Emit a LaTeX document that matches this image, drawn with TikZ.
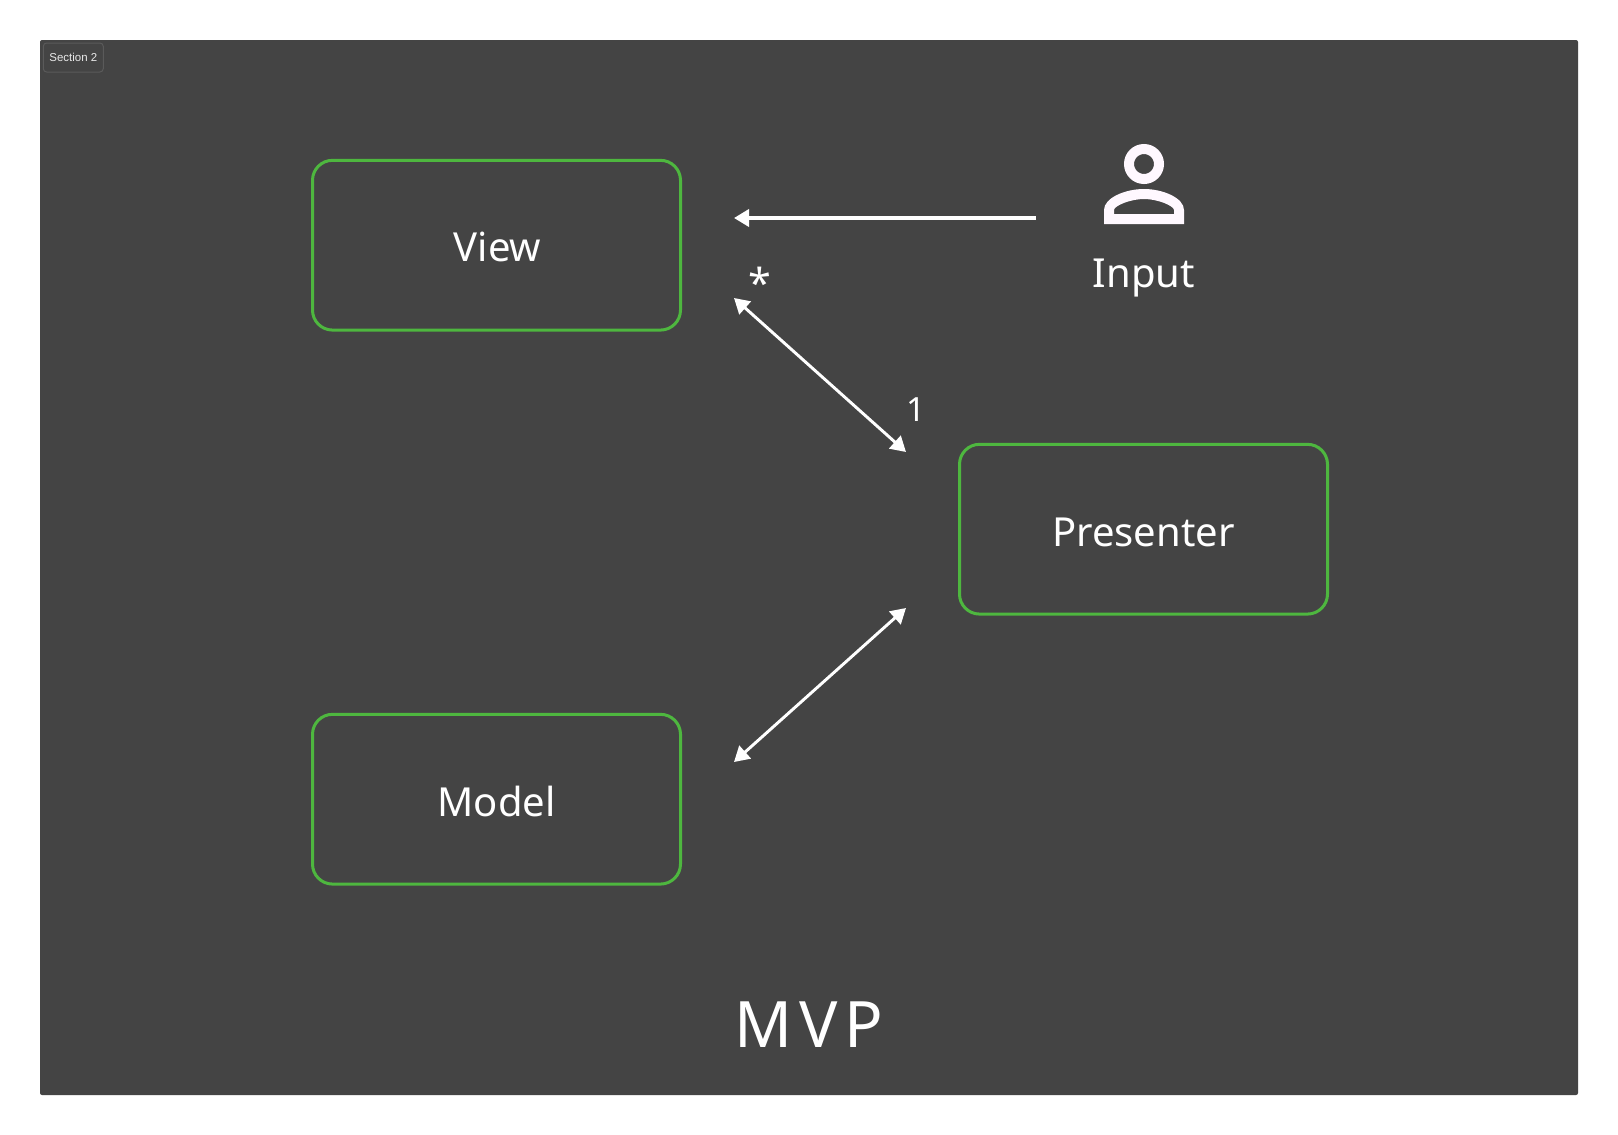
\documentclass[tikz,border=0pt]{standalone}
\usepackage{fontspec}
\setmainfont{Noto Sans}
\newfontfamily\spacedfont[LetterSpace=10.5]{Noto Sans}
\newfontfamily\tagfont{Liberation Sans}
\usetikzlibrary{arrows.meta}
\definecolor{panel}{HTML}{444444}
\definecolor{edgegreen}{HTML}{4EB73F}
\definecolor{tagborder}{HTML}{5A5A5A}
\definecolor{tagtext}{HTML}{E8E8E8}
\definecolor{iconwhite}{HTML}{FFF8FF}
\tikzset{
  x=0.75pt,y=-0.75pt,
  block/.style={draw=edgegreen,line width=2.25pt,rounded corners=15pt,minimum width=276pt,minimum height=127.3pt,inner sep=0pt,text=white,font=\fontsize{30}{36}\selectfont,text depth=0pt},
  link/.style={draw=white,line width=2.7pt,-{Triangle[length=11.25pt,width=12.75pt]}},
  biglink/.style={draw=white,line width=2.2pt,{Triangle[length=11.25pt,width=12.75pt]}-{Triangle[length=11.25pt,width=12.75pt]}},
  caption/.style={text=white,inner sep=0pt,anchor=base,font=\fontsize{30}{36}\selectfont},
}
\begin{document}
\begin{tikzpicture}
  \useasboundingbox (0,0) rectangle (1618,1135);
  \fill[white] (0,0) rectangle (1618,1135);
  \fill[panel,rounded corners=1.5pt] (40,40) rectangle (1578,1095);

  % section tag in the panel corner
  \node[draw=tagborder,line width=0.75pt,rounded corners=2.5pt,minimum width=45pt,minimum height=21.75pt,inner sep=0pt,text=tagtext,font=\fontsize{8.6}{10}\tagfont] (tag) at (73.3,57.5) {Section 2};

  % the three blocks
  \node[block,text height=24.7pt] (view) at (496.5,245.2) {\kern1.5pt View};
  \node[block,text height=25.5pt] (presenter) at (1143.5,529.2) {Presenter};
  \node[block,text height=26.2pt] (model) at (496.5,799.2) {Model};

  % person icon
  \draw[iconwhite,line width=7.5pt] (1144,164) circle (15);
  \fill[iconwhite,even odd rule]
    (1104,224) -- (1104,210) .. controls (1104,198) and (1125,189) .. (1144,189)
    .. controls (1163,189) and (1184,198) .. (1184,210) -- (1184,224) -- cycle
    (1114,214) -- (1174,214) -- (1174,210) .. controls (1174,206) and (1158,199) .. (1144,199)
    .. controls (1130,199) and (1114,206) .. (1114,210) -- cycle;

  % captions
  \node[caption] (input) at (1144,287) {Input};
  \node[text=white,inner sep=0pt,anchor=base,font=\fontsize{31}{36}\selectfont] (many) at (759.7,298) {*};
  \node[text=white,inner sep=0pt,anchor=base,font=\fontsize{25}{30}\selectfont] (one) at (916,421.5) {1};
  \node[text=white,inner sep=0pt,anchor=base,font=\fontsize{48}{56}\spacedfont] (title) at (809,1047) {MVP};

  % free ends of the arrows
  \coordinate (inputEnd) at (1036,218);
  \coordinate (viewEnd) at (734,218);
  \coordinate (viewLinkA) at (734,298);
  \coordinate (presLinkA) at (906,452);
  \coordinate (presLinkB) at (906,608);
  \coordinate (modelLink) at (734,762);

  \draw[link] (inputEnd) -- (viewEnd);
  \draw[biglink] (viewLinkA) -- (presLinkA);
  \draw[biglink] (modelLink) -- (presLinkB);
\end{tikzpicture}
\end{document}
